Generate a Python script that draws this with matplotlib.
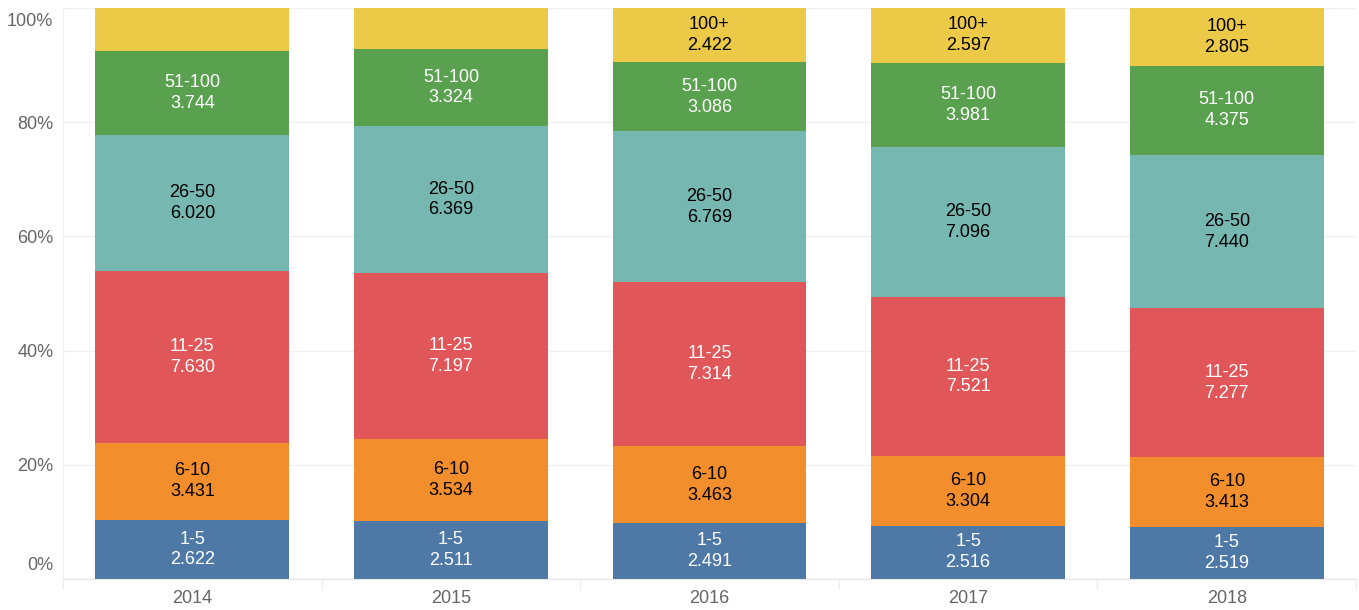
import matplotlib
matplotlib.use("Agg")
import matplotlib.pyplot as plt
import matplotlib.transforms as mtransforms
import numpy as np

years = ["2014", "2015", "2016", "2017", "2018"]
groups = ["1-5", "6-10", "11-25", "26-50", "51-100", "100+"]
values = {
    "1-5":    [2.622, 2.511, 2.491, 2.516, 2.519],
    "6-10":   [3.431, 3.534, 3.463, 3.304, 3.413],
    "11-25":  [7.630, 7.197, 7.314, 7.521, 7.277],
    "26-50":  [6.020, 6.369, 6.769, 7.096, 7.440],
    "51-100": [3.744, 3.324, 3.086, 3.981, 4.375],
    "100+":   [1.90, 1.78, 2.422, 2.597, 2.805],
}
# labels hidden in the original for these segments
hidden = {("100+", 0), ("100+", 1)}

colors = ["#4e79a7", "#f28e2b", "#e15759", "#76b7b2", "#59a14f", "#edc948"]
text_colors = ["white", "black", "white", "black", "white", "black"]

plt.rcParams['font.family'] = ['Liberation Sans', 'DejaVu Sans']

fig = plt.figure(figsize=(13.59, 6.10), dpi=100)
ax = fig.add_axes([63/1359, 31/610, 1293/1359, 571/610])

x = np.arange(len(years))
totals = np.sum([values[g] for g in groups], axis=0)
bottom = np.zeros(len(years))
for g, c, tc in zip(groups, colors, text_colors):
    h = np.array(values[g]) / totals
    ax.bar(x, h, bottom=bottom, width=0.75, color=c, edgecolor='none', zorder=2)
    for i in range(len(years)):
        if (g, i) in hidden:
            continue
        ax.text(x[i], bottom[i] + h[i] / 2, "%s\n%.3f" % (g, values[g][i]),
                ha='center', va='center', color=tc, fontsize=13,
                linespacing=1.3, zorder=3)
    bottom += h

ax.set_xlim(-0.5, len(years) - 0.5)
ax.set_ylim(0, 1)
yt = np.arange(0, 1.01, 0.2)
ax.set_yticks(yt)
ax.set_yticklabels(["%d%%" % round(v * 100) for v in yt])
ax.set_xticks(x)
ax.set_xticklabels(years)
ax.tick_params(axis='both', length=0, labelsize=13, labelcolor='#666666')
ax.tick_params(axis='x', pad=8)
ax.tick_params(axis='y', pad=7)
labels = ax.get_yticklabels()
labels[0].set_va('bottom')
labels[0].set_transform(labels[0].get_transform() +
                        mtransforms.ScaledTranslation(0, 5/100, fig.dpi_scale_trans))
labels[-1].set_va('top')
labels[-1].set_transform(labels[-1].get_transform() +
                         mtransforms.ScaledTranslation(0, -5/100, fig.dpi_scale_trans))

ax.grid(axis='y', color='#f0f0f0', linewidth=1, zorder=0)
for s in ['top', 'right']:
    ax.spines[s].set_visible(False)
ax.spines['left'].set_color('#f0f0f0')
ax.spines['bottom'].set_color('#e6e6e6')

# cell dividers under the x axis
for b in np.arange(-0.5, len(years), 1.0):
    ax.plot([b, b], [0, -0.018], color='#eeeeee', linewidth=1,
            clip_on=False, zorder=1)

fig.savefig("out.png", dpi=100)
